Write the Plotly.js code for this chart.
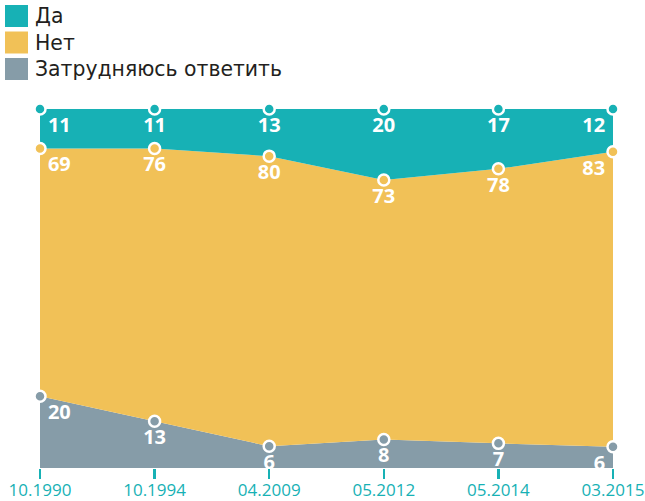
<!DOCTYPE html>
<html>
<head>
<meta charset="utf-8">
<script src="https://cdn.plot.ly/plotly-3.0.1.min.js"></script>
<style>html,body{margin:0;padding:0;background:#fff;}#chart{width:645px;height:501px;}</style>
</head>
<body>
<div id="chart"></div>
<script>
const categories = ["10.1990", "10.1994", "04.2009", "05.2012", "05.2014", "03.2015"];
const seriesNames = ["Да", "Нет", "Затрудняюсь ответить"];
const da = [11, 11, 13, 20, 17, 12];
const net = [69, 76, 80, 73, 78, 83];
const zatr = [20, 13, 6, 8, 7, 6];

const TEAL = "#17b1b5", YELLOW = "#f1c157", GRAY = "#869ca8";
const FONT = "Open Sans, sans-serif";
const positions = categories.map((c, i) => i === 0 ? "bottom right" : (i === categories.length - 1 ? "bottom left" : "bottom center"));

function trace(name, vals, color) {
  return {
    type: "scatter", mode: "markers+text", name: name,
    x: categories, y: vals, stackgroup: "one", groupnorm: "percent",
    fillcolor: color, line: {width: 0, color: color},
    marker: {size: 11, color: color, line: {color: "#ffffff", width: 2.5}},
    text: vals.map(String), textposition: positions,
    textfont: {family: FONT, size: 20, color: "#ffffff", weight: 700},
    cliponaxis: false, hoverinfo: "x+text+name"
  };
}

const data = [
  trace(seriesNames[2], zatr, GRAY),
  trace(seriesNames[1], net, YELLOW),
  trace(seriesNames[0], da, TEAL)
];

const legendColors = [TEAL, YELLOW, GRAY];
const shapes = [];
seriesNames.forEach((n, i) => {
  const top = 5 + i * 26.5;
  shapes.push({type: "rect", xref: "paper", yref: "paper", layer: "above",
    x0: -35/573, x1: -12/573, y0: 1 + (109 - top) / 359, y1: 1 + (109 - top - 22) / 359,
    fillcolor: legendColors[i], line: {width: 0}});
});
const annotations = [{xref: "paper", yref: "paper", x: -6/573, y: 1 + (109 - 3) / 359,
  xanchor: "left", yanchor: "top", align: "left", showarrow: false, borderpad: 0,
  text: seriesNames.join("<br>"),
  font: {family: "DejaVu Sans, sans-serif", size: 20.4, color: "#231f20"}}];

const layout = {
  width: 645, height: 501,
  margin: {l: 40, r: 32, t: 109, b: 33, pad: 0},
  paper_bgcolor: "#ffffff", plot_bgcolor: "#ffffff",
  showlegend: false,
  xaxis: {type: "category", range: [0, 5], showgrid: false, zeroline: false, showline: false,
    ticks: "outside", ticklen: 10, tickwidth: 2.5, tickcolor: TEAL, ticklabelstandoff: -3,
    tickfont: {family: FONT, size: 17, color: TEAL}, fixedrange: true},
  yaxis: {range: [0, 100], visible: false, fixedrange: true},
  shapes: shapes, annotations: annotations
};

Plotly.newPlot("chart", data, layout, {displayModeBar: false, staticPlot: true});
</script>
</body>
</html>
